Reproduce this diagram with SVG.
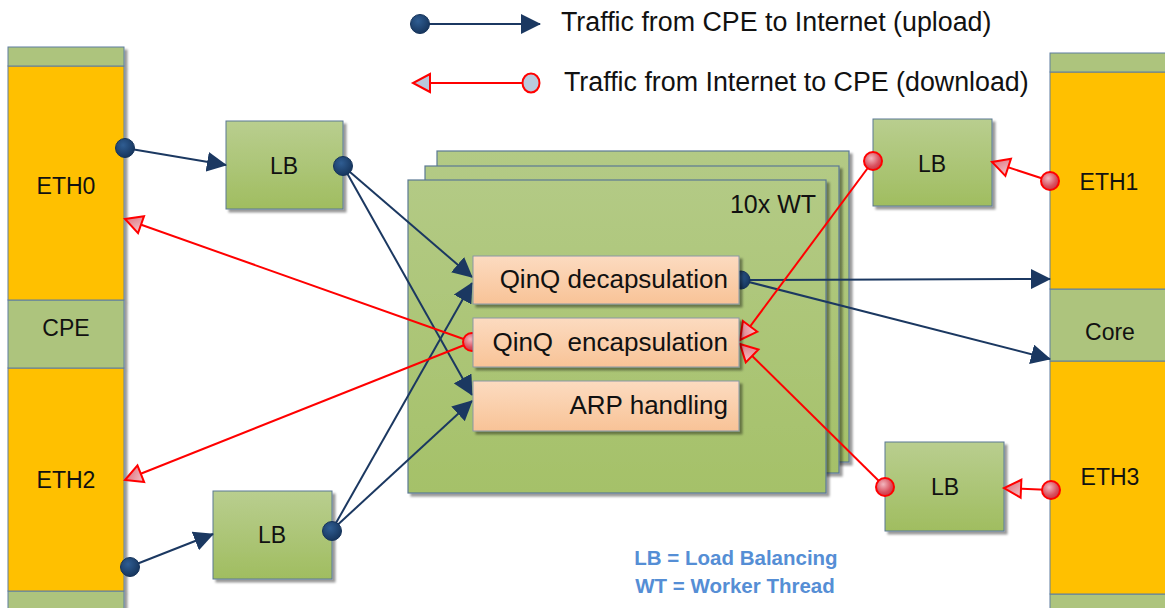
<svg xmlns="http://www.w3.org/2000/svg" width="1165" height="608" viewBox="0 0 1165 608">
  <defs>
    <linearGradient id="gGreen" x1="0" y1="0" x2="0" y2="1">
      <stop offset="0" stop-color="#b9ce8f"/>
      <stop offset="1" stop-color="#a0bd60"/>
    </linearGradient>
    <linearGradient id="gWT" x1="0" y1="0" x2="0" y2="1">
      <stop offset="0" stop-color="#b3ca85"/>
      <stop offset="1" stop-color="#a5c169"/>
    </linearGradient>
    <linearGradient id="gSalmon" x1="0" y1="0" x2="0" y2="1">
      <stop offset="0" stop-color="#fcdbc0"/>
      <stop offset="1" stop-color="#f8c397"/>
    </linearGradient>
    <radialGradient id="gBlueDot" cx="0.4" cy="0.35" r="0.7">
      <stop offset="0" stop-color="#2f5d92"/>
      <stop offset="1" stop-color="#15335a"/>
    </radialGradient>
    <radialGradient id="gRedDot" cx="0.4" cy="0.35" r="0.75">
      <stop offset="0" stop-color="#f2b7bf"/>
      <stop offset="0.6" stop-color="#d9505e"/>
      <stop offset="1" stop-color="#c0303c"/>
    </radialGradient>
    <linearGradient id="gRedHead" x1="0" y1="0" x2="1" y2="1">
      <stop offset="0" stop-color="#f4c4ca"/>
      <stop offset="1" stop-color="#d8606c"/>
    </linearGradient>
    <filter id="shadow" x="-10%" y="-10%" width="130%" height="130%">
      <feDropShadow dx="3" dy="3" stdDeviation="1" flood-color="#000" flood-opacity="0.4"/>
    </filter>
    <marker id="headBlue" markerUnits="userSpaceOnUse" markerWidth="20" markerHeight="20" refX="19" refY="10" orient="auto">
      <path d="M0,0 L20,10 L0,20 Z" fill="#1b3861"/>
    </marker>
    <marker id="headRed" markerUnits="userSpaceOnUse" markerWidth="22" markerHeight="24" refX="19" refY="12" orient="auto">
      <path d="M2,3 L19,12 L2,21 Z" fill="url(#gRedHead)" stroke="#ff0000" stroke-width="2" stroke-linejoin="miter"/>
    </marker>
    <marker id="headRedLegend" markerUnits="userSpaceOnUse" markerWidth="22" markerHeight="24" refX="19" refY="12" orient="auto">
      <path d="M2,3 L19,12 L2,21 Z" fill="#b9c9dd" stroke="#ff0000" stroke-width="2"/>
    </marker>
  </defs>
  <style>
    text { font-family: "Liberation Sans", Arial, sans-serif; fill: #111; }
    .lbl { font-size: 23px; text-anchor: middle; }
    .fn { font-size: 26px; text-anchor: end; }
    .leg { font-size: 26.8px; }
    .note { font-size: 20.5px; font-weight: bold; fill: #558ed5; text-anchor: middle; }
    .orange { fill: #ffc000; stroke: #5f7f9f; stroke-width: 1; }
    .green { fill: url(#gGreen); stroke: #5a7894; stroke-width: 1; }
    .colgreen { fill: #adc47d; stroke: #5f7f9f; stroke-width: 1; }
    .wt { fill: url(#gWT); stroke: #5a7894; stroke-width: 1.2; }
    .fnbox { fill: url(#gSalmon); stroke: #8a97a6; stroke-width: 1; }
    .up { stroke: #1b3861; stroke-width: 2; fill: none; marker-end: url(#headBlue); }
    .down { stroke: #ff0000; stroke-width: 2; fill: none; marker-end: url(#headRed); }
    .bdot { fill: url(#gBlueDot); stroke: #15335a; stroke-width: 1; }
    .rdot { fill: url(#gRedDot); stroke: #ff0000; stroke-width: 2; }
  </style>

  <!-- left column: CPE side -->
  <g id="cpe-column" filter="url(#shadow)">
    <rect class="colgreen" x="8" y="591" width="116" height="30"/>
    <rect class="orange" x="8" y="368" width="116" height="223"/>
    <rect class="colgreen" x="8" y="300" width="116" height="68"/>
    <rect class="orange" x="8" y="66" width="116" height="234"/>
    <rect class="colgreen" x="8" y="47" width="116" height="19"/>
  </g>
  <g id="eth0"><text class="lbl" x="66" y="194">ETH0</text></g>
  <g id="cpe"><text class="lbl" x="66" y="336">CPE</text></g>
  <g id="eth2"><text class="lbl" x="66" y="488">ETH2</text></g>

  <!-- right column: Core side -->
  <g id="core-column" filter="url(#shadow)">
    <rect class="colgreen" x="1050" y="594" width="130" height="30"/>
    <rect class="orange" x="1050" y="361" width="130" height="233"/>
    <rect class="colgreen" x="1050" y="289" width="130" height="72"/>
    <rect class="orange" x="1050" y="72" width="130" height="217"/>
    <rect class="colgreen" x="1050" y="53" width="130" height="19"/>
  </g>
  <g id="eth1"><text class="lbl" x="1109" y="190">ETH1</text></g>
  <g id="core"><text class="lbl" x="1110" y="340">Core</text></g>
  <g id="eth3"><text class="lbl" x="1110" y="485">ETH3</text></g>

  <!-- load balancers -->
  <g id="lb-eth0">
    <rect class="green" filter="url(#shadow)" x="226" y="121" width="117" height="88"/>
    <text class="lbl" x="284" y="174">LB</text>
  </g>
  <g id="lb-eth2">
    <rect class="green" filter="url(#shadow)" x="213" y="491" width="119" height="88"/>
    <text class="lbl" x="272" y="543">LB</text>
  </g>
  <g id="lb-eth1">
    <rect class="green" filter="url(#shadow)" x="873" y="119" width="119" height="87"/>
    <text class="lbl" x="932" y="172">LB</text>
  </g>
  <g id="lb-eth3">
    <rect class="green" filter="url(#shadow)" x="885" y="442" width="119" height="89"/>
    <text class="lbl" x="945" y="495">LB</text>
  </g>

  <!-- worker thread stack -->
  <g id="worker-threads">
    <rect class="wt" filter="url(#shadow)" x="437" y="151" width="412" height="311"/>
    <rect class="wt" filter="url(#shadow)" x="425" y="166" width="414" height="307"/>
    <rect class="wt" filter="url(#shadow)" x="408" y="180" width="418" height="313"/>
    <text x="816" y="213" style="font-size:25px;text-anchor:end">10x WT</text>
  </g>

  <!-- connectors -->
  <g id="connectors">
    <!-- upload path -->
    <line class="up" x1="125" y1="148" x2="226" y2="165"/>
    <line class="up" x1="343" y1="166" x2="472" y2="277"/>
    <line class="up" x1="343" y1="166" x2="472" y2="395"/>
    <line class="up" x1="129" y1="567" x2="213" y2="534"/>
    <line class="up" x1="332" y1="530" x2="472" y2="283"/>
    <line class="up" x1="332" y1="530" x2="472" y2="401"/>
    <line class="up" x1="741" y1="280" x2="1050" y2="279"/>
    <line class="up" x1="741" y1="280" x2="1050" y2="359"/>
    <!-- download path -->
    <line class="down" x1="1050" y1="181" x2="992" y2="162"/>
    <line class="down" x1="873" y1="161" x2="740" y2="340"/>
    <line class="down" x1="1051" y1="490" x2="1004" y2="488"/>
    <line class="down" x1="885" y1="487" x2="740" y2="344"/>
    <line class="down" x1="472" y1="342" x2="125" y2="219"/>
    <line class="down" x1="472" y1="342" x2="125" y2="480"/>
    <!-- port dots -->
    <circle class="bdot" cx="125" cy="148" r="9.5"/>
    <circle class="bdot" cx="343" cy="166" r="9.5"/>
    <circle class="bdot" cx="130" cy="567" r="9.5"/>
    <circle class="bdot" cx="332" cy="531" r="9.5"/>
    <circle class="bdot" cx="741" cy="280" r="9"/>
    <circle class="rdot" cx="1050" cy="181" r="9"/>
    <circle class="rdot" cx="873" cy="161" r="9"/>
    <circle class="rdot" cx="1051" cy="490" r="9"/>
    <circle class="rdot" cx="885" cy="487" r="9"/>
    <circle class="rdot" cx="472" cy="342" r="9"/>
  </g>

  <!-- worker thread functions -->
  <g id="qinq-decap">
    <rect class="fnbox" filter="url(#shadow)" x="473" y="256" width="266" height="48"/>
    <text class="fn" x="728" y="288">QinQ decapsulation</text>
  </g>
  <g id="qinq-encap">
    <rect class="fnbox" filter="url(#shadow)" x="473" y="318" width="266" height="49"/>
    <text class="fn" x="728" y="351" xml:space="preserve">QinQ  encapsulation</text>
  </g>
  <g id="arp">
    <rect class="fnbox" filter="url(#shadow)" x="473" y="381" width="266" height="50"/>
    <text class="fn" x="728" y="414">ARP handling</text>
  </g>

  <!-- legend -->
  <g id="legend">
    <line class="up" x1="420" y1="24" x2="540" y2="24"/>
    <circle class="bdot" cx="420" cy="24" r="9.5"/>
    <text class="leg" x="561" y="31">Traffic from CPE to Internet (upload)</text>
    <line x1="531" y1="83" x2="413" y2="83" stroke="#ff0000" stroke-width="2" marker-end="url(#headRedLegend)"/>
    <ellipse cx="531" cy="83" rx="8.5" ry="9.5" fill="#b9c9dd" stroke="#ff0000" stroke-width="2"/>
    <text class="leg" x="564" y="91">Traffic from Internet to CPE (download)</text>
  </g>

  <g id="abbreviations">
    <text class="note" x="736" y="565">LB = Load Balancing</text>
    <text class="note" x="735" y="593">WT = Worker Thread</text>
  </g>
</svg>
